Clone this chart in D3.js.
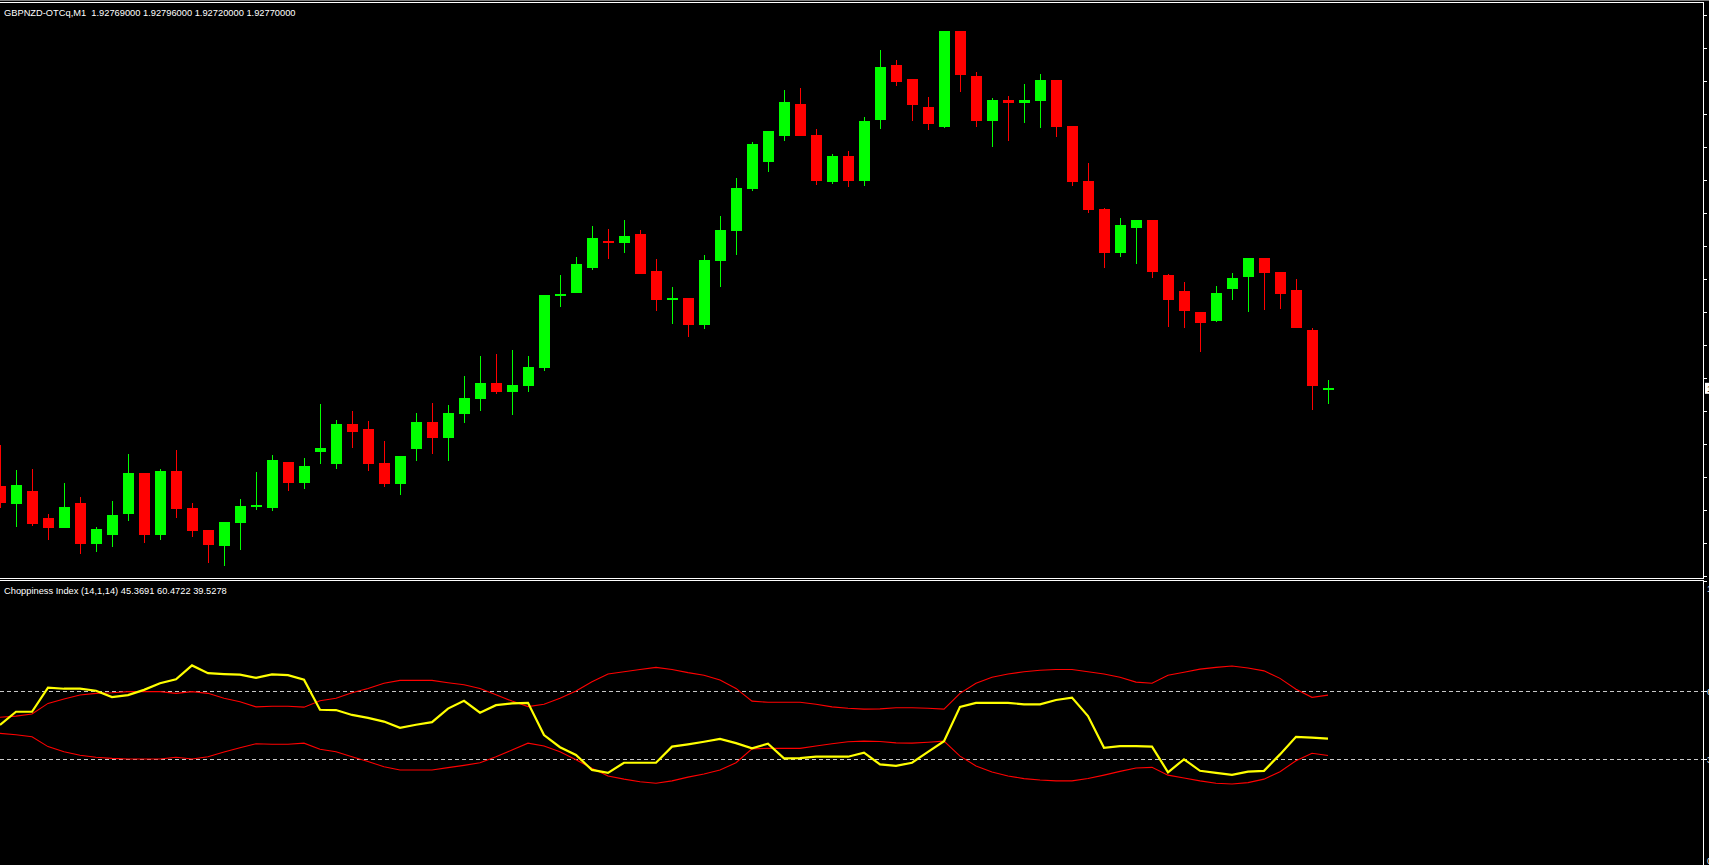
<!DOCTYPE html>
<html><head><meta charset="utf-8">
<script src="https://cdn.jsdelivr.net/npm/d3@7"></script>
<style>html,body{margin:0;padding:0;background:#000;overflow:hidden}svg{display:block}</style>
</head><body><svg id="c" width="1709" height="865"></svg>
<script>
// ---------- data (GBPNZD-OTCq, M1) ----------
const symbolTitle = "GBPNZD-OTCq,M1  1.92769000 1.92796000 1.92720000 1.92770000";
const indicatorTitle = "Choppiness Index (14,1,14) 45.3691 60.4722 39.5278";

const open = [1.92457,1.92401,1.92441,1.92355,1.92324,1.92403,1.92273,1.92302,1.92369,1.92499,
1.92302,1.92505,1.92387,1.92317,1.92266,1.92340,1.92390,1.92388,1.92534,1.92468,
1.92567,1.92529,1.92656,1.92640,1.92531,1.92465,1.92577,1.92662,1.92612,1.92689,
1.92737,1.92787,1.92759,1.92778,1.92836,1.93066,1.93076,1.93156,1.93241,1.93236,
1.93264,1.93145,1.93054,1.93059,1.92974,1.93178,1.93274,1.93409,1.93495,1.93578,
1.93680,1.93581,1.93431,1.93513,1.93434,1.93630,1.93805,1.93760,1.93670,1.93607,
1.93913,1.93769,1.93626,1.93693,1.93684,1.93690,1.93757,1.93609,1.93433,1.93344,
1.93204,1.93284,1.93309,1.93133,1.93081,1.93014,1.92986,1.93089,1.93127,1.93187,
1.93142,1.93085,1.92957,1.92769];

const high = [1.92589,1.92509,1.92512,1.92368,1.92467,1.92422,1.92326,1.92409,1.92560,1.92499,
1.92512,1.92573,1.92403,1.92317,1.92342,1.92416,1.92502,1.92557,1.92534,1.92547,
1.92720,1.92669,1.92697,1.92665,1.92601,1.92553,1.92691,1.92723,1.92717,1.92809,
1.92873,1.92880,1.92893,1.92873,1.93069,1.93133,1.93190,1.93289,1.93280,1.93309,
1.93277,1.93184,1.93094,1.93059,1.93197,1.93321,1.93443,1.93558,1.93593,1.93725,
1.93731,1.93600,1.93520,1.93529,1.93638,1.93853,1.93821,1.93760,1.93702,1.93913,
1.93913,1.93782,1.93699,1.93705,1.93744,1.93776,1.93757,1.93609,1.93491,1.93347,
1.93315,1.93309,1.93309,1.93136,1.93110,1.93014,1.93097,1.93139,1.93187,1.93187,
1.93142,1.93120,1.92963,1.92796];

const low = [1.92387,1.92327,1.92330,1.92286,1.92324,1.92241,1.92247,1.92263,1.92346,1.92276,
1.92286,1.92356,1.92295,1.92212,1.92202,1.92254,1.92382,1.92378,1.92442,1.92449,
1.92529,1.92513,1.92580,1.92506,1.92455,1.92430,1.92538,1.92561,1.92538,1.92660,
1.92698,1.92753,1.92686,1.92759,1.92826,1.93031,1.93076,1.93150,1.93185,1.93204,
1.93137,1.93018,1.92977,1.92935,1.92961,1.93095,1.93198,1.93402,1.93463,1.93562,
1.93578,1.93422,1.93425,1.93415,1.93418,1.93601,1.93738,1.93626,1.93598,1.93604,
1.93719,1.93607,1.93543,1.93562,1.93620,1.93604,1.93575,1.93418,1.93332,1.93156,
1.93191,1.93169,1.93124,1.92967,1.92964,1.92887,1.92983,1.93054,1.93015,1.93022,
1.93025,1.92964,1.92702,1.92720];

const close = [1.92403,1.92461,1.92337,1.92324,1.92390,1.92273,1.92320,1.92365,1.92499,1.92302,
1.92505,1.92385,1.92314,1.92270,1.92342,1.92393,1.92397,1.92541,1.92468,1.92521,
1.92579,1.92656,1.92631,1.92529,1.92465,1.92553,1.92662,1.92612,1.92691,1.92739,
1.92787,1.92759,1.92781,1.92838,1.93069,1.93072,1.93168,1.93251,1.93236,1.93257,
1.93137,1.93054,1.93059,1.92974,1.93181,1.93277,1.93411,1.93552,1.93593,1.93686,
1.93578,1.93434,1.93513,1.93434,1.93625,1.93798,1.93751,1.93678,1.93617,1.93913,
1.93774,1.93626,1.93693,1.93684,1.93693,1.93757,1.93607,1.93431,1.93342,1.93204,
1.93293,1.93309,1.93143,1.93054,1.93018,1.92980,1.93075,1.93123,1.93187,1.93140,
1.93073,1.92964,1.92778,1.92770];

const chop = [50.1,54.7,54.7,63.1,62.7,62.7,62.0,59.8,60.5,62.3,
64.6,66.0,70.8,68.1,67.8,67.6,66.5,67.7,67.4,65.8,
55.4,55.3,53.6,52.6,51.3,49.1,50.2,51.1,55.8,58.5,
54.4,57.0,57.6,57.8,46.6,42.4,39.7,34.5,33.5,37.0,
37.0,37.0,42.6,43.4,44.3,45.3,43.8,42.0,43.6,38.5,
38.6,39.1,39.1,39.1,40.5,36.4,35.9,37.0,40.8,44.5,
56.4,57.8,57.8,57.8,57.3,57.3,58.8,59.6,53.2,42.2,
42.8,42.8,42.6,33.7,38.2,34.2,33.5,32.8,33.9,34.2,
39.9,46.0,45.7,45.3691];

const upperBand = [52.8,53.2,53.9,57.6,59.1,60.5,61.1,61.3,61.7,61.7,
61.7,61.1,61.7,61.1,59.4,58.2,56.4,56.6,56.6,56.3,
58.5,59.4,61.3,62.8,64.6,65.6,65.6,65.6,64.8,64.1,
62.8,60.6,58.4,56.5,57.3,59.4,61.9,65.1,67.8,68.6,
69.4,70.1,69.4,68.3,67.4,65.7,62.8,58.4,58.0,58.0,
58.0,57.3,56.4,55.9,55.6,55.7,56.1,56.1,55.9,55.6,
61.1,64.6,66.7,67.8,68.6,69.1,69.4,69.4,68.6,67.8,
66.7,65.0,64.6,67.4,68.4,69.5,70.1,70.6,69.9,68.9,
66.3,62.5,59.7,60.4722];

const lowerBand = [47.2,46.7,46.0,42.6,40.8,39.6,38.9,38.5,38.3,38.3,
38.3,38.9,38.3,39.1,40.7,42.2,43.6,43.4,43.4,43.8,
41.7,40.8,39.1,37.4,35.6,34.5,34.5,34.5,35.3,36.1,
37.0,39.1,41.4,43.8,42.8,40.8,38.0,35.1,32.4,31.3,
30.4,29.9,30.7,32.0,33.1,34.5,37.0,41.8,42.0,42.0,
42.0,42.8,43.6,44.3,44.5,44.4,43.9,43.8,44.1,44.5,
39.3,35.9,33.8,32.4,31.5,31.0,30.7,30.7,31.5,32.7,
34.0,35.2,35.4,32.7,31.7,30.7,29.9,29.6,30.1,31.3,
33.9,37.7,40.3,39.5278];

const priceTicks = [1.93963,1.93858,1.93752,1.93647,1.93541,1.93436,1.93330,1.93225,1.93119,
1.93014,1.92908,1.92803,1.92697,1.92592,1.92486,1.92381,1.92275,1.92170];
const levels = [61.8, 38.2];
const indicatorTickLabels = ["100", "61.8", "38.2", "0"];
const indicatorTickValues = [100, 61.8, 38.2, 0];

// ---------- drawing ----------
const W = 1709, H = 865;
const RIGHT = 1703;
const FONT = 'Liberation Sans, Arial, sans-serif';
const svg = d3.select('#c');
svg.append('rect').attr('width', W).attr('height', H).attr('fill', '#000');

const n = close.length;
const bars = d3.range(n).map(i => ({i, o: open[i], h: high[i], l: low[i], c: close[i]}));

const x = d3.scaleLinear().domain([0, n - 1]).range([0, 16 * (n - 1)]);
const y = d3.scaleLinear().domain([1.921598, 1.940062]).range([579, 2]);
const yi = d3.scaleLinear().domain([0, 100]).range([869.3, 581.3]);

const defs = svg.append('defs');
defs.append('clipPath').attr('id', 'cm').append('rect').attr('x', 0).attr('y', 3).attr('width', RIGHT).attr('height', 575);
defs.append('clipPath').attr('id', 'ci').append('rect').attr('x', 0).attr('y', 581).attr('width', RIGHT).attr('height', 290);

const UP = '#00ff00', DN = '#ff0000';
const gm = svg.append('g').attr('clip-path', 'url(#cm)').attr('shape-rendering', 'crispEdges');
gm.selectAll('line.w').data(bars).join('line').attr('class', 'w')
  .attr('x1', d => x(d.i) + 0.5).attr('x2', d => x(d.i) + 0.5)
  .attr('y1', d => y(d.h)).attr('y2', d => y(d.l))
  .attr('stroke', d => d.c >= d.o ? UP : DN).attr('stroke-width', 1.2);
gm.selectAll('rect.b').data(bars).join('rect').attr('class', 'b')
  .attr('x', d => x(d.i) - 5).attr('width', 11)
  .attr('y', d => y(Math.max(d.o, d.c)))
  .attr('height', d => Math.max(1.5, y(Math.min(d.o, d.c)) - y(Math.max(d.o, d.c))))
  .attr('fill', d => d.c >= d.o ? UP : DN);

// indicator
const gi = svg.append('g').attr('clip-path', 'url(#ci)');
gi.selectAll('line.lv').data(levels).join('line').attr('class', 'lv')
  .attr('x1', 0).attr('x2', RIGHT).attr('y1', d => Math.round(yi(d)) + 0.5).attr('y2', d => Math.round(yi(d)) + 0.5)
  .attr('stroke', '#c8c8c8').attr('stroke-width', 1).attr('stroke-dasharray', '4,3').attr('shape-rendering', 'crispEdges');
const line = d3.line().x((d, i) => x(i)).y(d => yi(d));
gi.append('path').datum(upperBand).attr('d', line).attr('fill', 'none').attr('stroke', DN).attr('stroke-width', 1.1);
gi.append('path').datum(lowerBand).attr('d', line).attr('fill', 'none').attr('stroke', DN).attr('stroke-width', 1.1);
gi.append('path').datum(chop).attr('d', line).attr('fill', 'none').attr('stroke', '#ffff00').attr('stroke-width', 2.2);

// borders
const bd = svg.append('g').attr('shape-rendering', 'crispEdges');
bd.append('line').attr('x1', 0).attr('x2', W).attr('y1', 0.5).attr('y2', 0.5).attr('stroke', '#808080');
bd.append('line').attr('x1', 0).attr('x2', RIGHT + 1).attr('y1', 2.5).attr('y2', 2.5).attr('stroke', '#fff');
bd.append('line').attr('x1', 0).attr('x2', RIGHT + 1).attr('y1', 578.5).attr('y2', 578.5).attr('stroke', '#fff');
bd.append('line').attr('x1', 0).attr('x2', RIGHT + 1).attr('y1', 580.5).attr('y2', 580.5).attr('stroke', '#fff');
bd.append('line').attr('x1', RIGHT + 0.5).attr('x2', RIGHT + 0.5).attr('y1', 2).attr('y2', 579).attr('stroke', '#fff');
bd.append('line').attr('x1', RIGHT + 0.5).attr('x2', RIGHT + 0.5).attr('y1', 580).attr('y2', H).attr('stroke', '#fff');

// price axis ticks
bd.selectAll('line.pt').data(priceTicks).join('line').attr('class', 'pt')
  .attr('x1', RIGHT + 1).attr('x2', RIGHT + 4)
  .attr('y1', d => Math.round(y(d)) + 0.5).attr('y2', d => Math.round(y(d)) + 0.5)
  .attr('stroke', '#fff');
// current price marker
const last = close[n - 1];
svg.append('rect').attr('x', RIGHT + 2).attr('y', y(last) - 5.5).attr('width', 60).attr('height', 11).attr('fill', '#fff');
svg.append('text').attr('x', RIGHT + 4).attr('y', y(last) + 3.5).attr('fill', '#000')
  .attr('font-family', FONT).attr('font-size', 9).text(last.toFixed(5));

// indicator axis ticks/labels
bd.selectAll('line.it').data(indicatorTickValues).join('line').attr('class', 'it')
  .attr('x1', RIGHT + 1).attr('x2', RIGHT + 4)
  .attr('y1', d => Math.round(yi(d)) + 0.5).attr('y2', d => Math.round(yi(d)) + 0.5)
  .attr('stroke', '#fff');
svg.selectAll('text.il').data(indicatorTickLabels).join('text').attr('class', 'il')
  .attr('x', RIGHT + 4)
  .attr('y', (d, k) => { const v = indicatorTickValues[k]; return v === 100 ? yi(v) + 11 : v === 0 ? yi(v) - 5 : yi(v) + 3.5; })
  .attr('fill', '#fff').attr('font-family', FONT).attr('font-size', 9)
  .text(d => d);

// titles
svg.append('text').attr('x', 4).attr('y', 15.5).attr('fill', '#fff')
  .attr('font-family', FONT).attr('font-size', 9.3)
  .style('white-space', 'pre').text(symbolTitle);
svg.append('text').attr('x', 4).attr('y', 593.5).attr('fill', '#fff')
  .attr('font-family', FONT).attr('font-size', 9.3)
  .text(indicatorTitle);
</script></body></html>
